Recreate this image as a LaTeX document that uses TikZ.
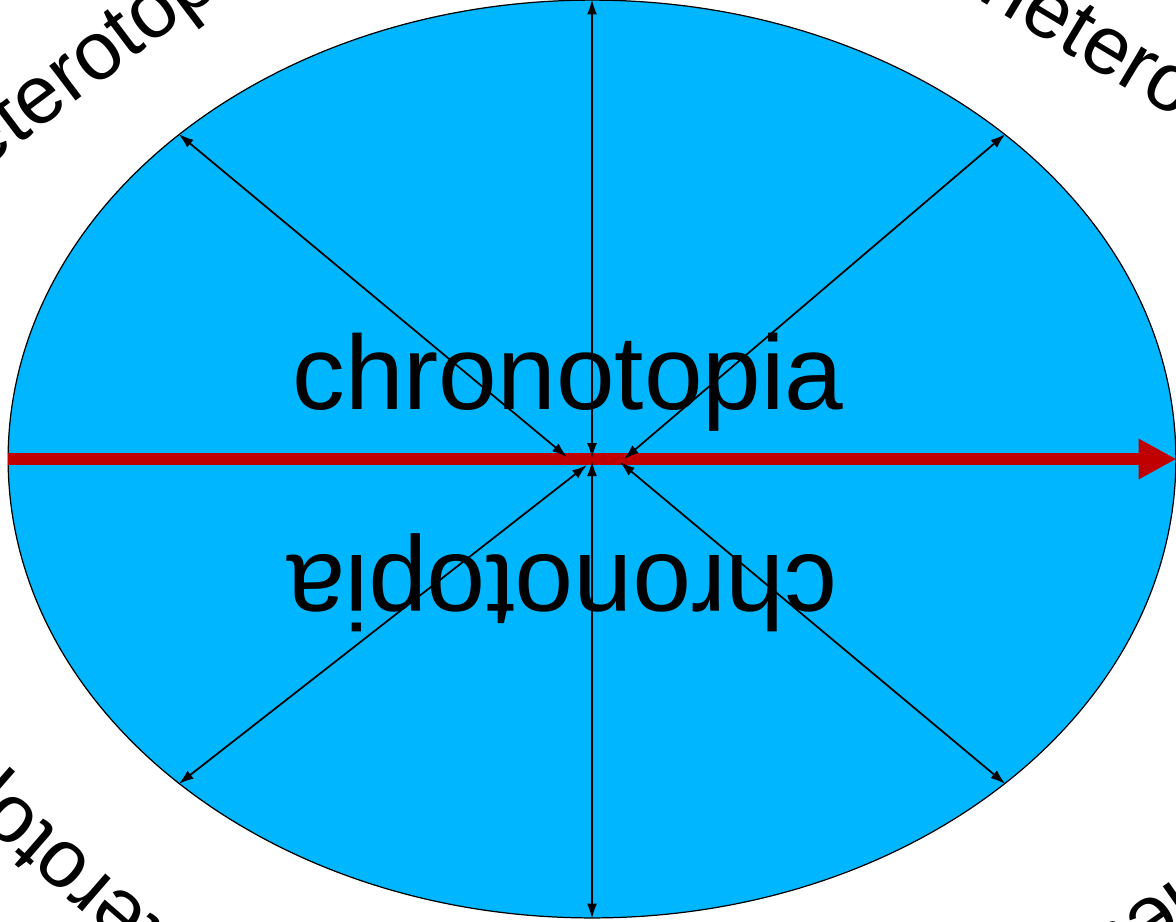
\documentclass[tikz,border=0pt]{standalone}
\usepackage{fontspec}
\setmainfont{Liberation Sans}
\usetikzlibrary{arrows.meta,positioning,shapes.geometric}
\definecolor{skyfill}{RGB}{0,183,255}
\definecolor{timered}{RGB}{192,0,0}

\begin{document}
\begin{tikzpicture}[x=0.02cm, y=-0.02cm]
\useasboundingbox (0,0) rectangle (1176,921);
% the oval
\node[draw, ellipse, fill=skyfill, line width=0.7pt, inner sep=0pt, minimum width=23.36cm, minimum height=18.36cm] (oval) at (592,459) {};
% words round the oval
\node[rotate=37, font=\fontsize{47}{50}\selectfont] (htl) at (95,60) {heterotopia};
\node[rotate=-31, font=\fontsize{47}{50}\selectfont] (htr) at (1165,87) {heterotopia};
\node[rotate=139, font=\fontsize{47}{50}\selectfont] (hbl) at (67,868) {heterotopia};
\node[rotate=215, font=\fontsize{47}{50}\selectfont] (hbr) at (1039,999) {heterotopia};
% words inside
\node[anchor=base, font=\fontsize{60}{66}\selectfont] (cup) at (568,409) {chronotopia};
\node[anchor=base, rotate=180, font=\fontsize{60}{66}\selectfont] (cdown) at (562,555) {chronotopia};
% time line
\draw[timered, line width=6.8pt, -{Triangle[length=0.76cm,width=0.76cm]}] (oval.west) -- (oval.east);
% meeting points near the middle
\coordinate (mtl) at (567,457);
\coordinate (mtr) at (624,459);
\coordinate (mbl) at (587,465);
\coordinate (mbr) at (620,462);
\coordinate (mtop) at (592,458);
\coordinate (mbot) at (592,461);
% arrows
\draw[line width=1pt, {Latex[length=0.3cm,width=0.2cm]}-{Latex[length=0.3cm,width=0.2cm]}] (oval.north) -- (mtop);
\draw[line width=1pt, {Latex[length=0.3cm,width=0.2cm]}-{Latex[length=0.3cm,width=0.2cm]}] (oval.south) -- (mbot);
\draw[line width=1pt, {Latex[length=0.3cm,width=0.2cm]}-{Latex[length=0.3cm,width=0.2cm]}] (oval.north west) -- (mtl);
\draw[line width=1pt, {Latex[length=0.3cm,width=0.2cm]}-{Latex[length=0.3cm,width=0.2cm]}] (oval.north east) -- (mtr);
\draw[line width=1pt, {Latex[length=0.3cm,width=0.2cm]}-{Latex[length=0.3cm,width=0.2cm]}] (oval.south west) -- (mbl);
\draw[line width=1pt, {Latex[length=0.3cm,width=0.2cm]}-{Latex[length=0.3cm,width=0.2cm]}] (oval.south east) -- (mbr);
\end{tikzpicture}
\end{document}
